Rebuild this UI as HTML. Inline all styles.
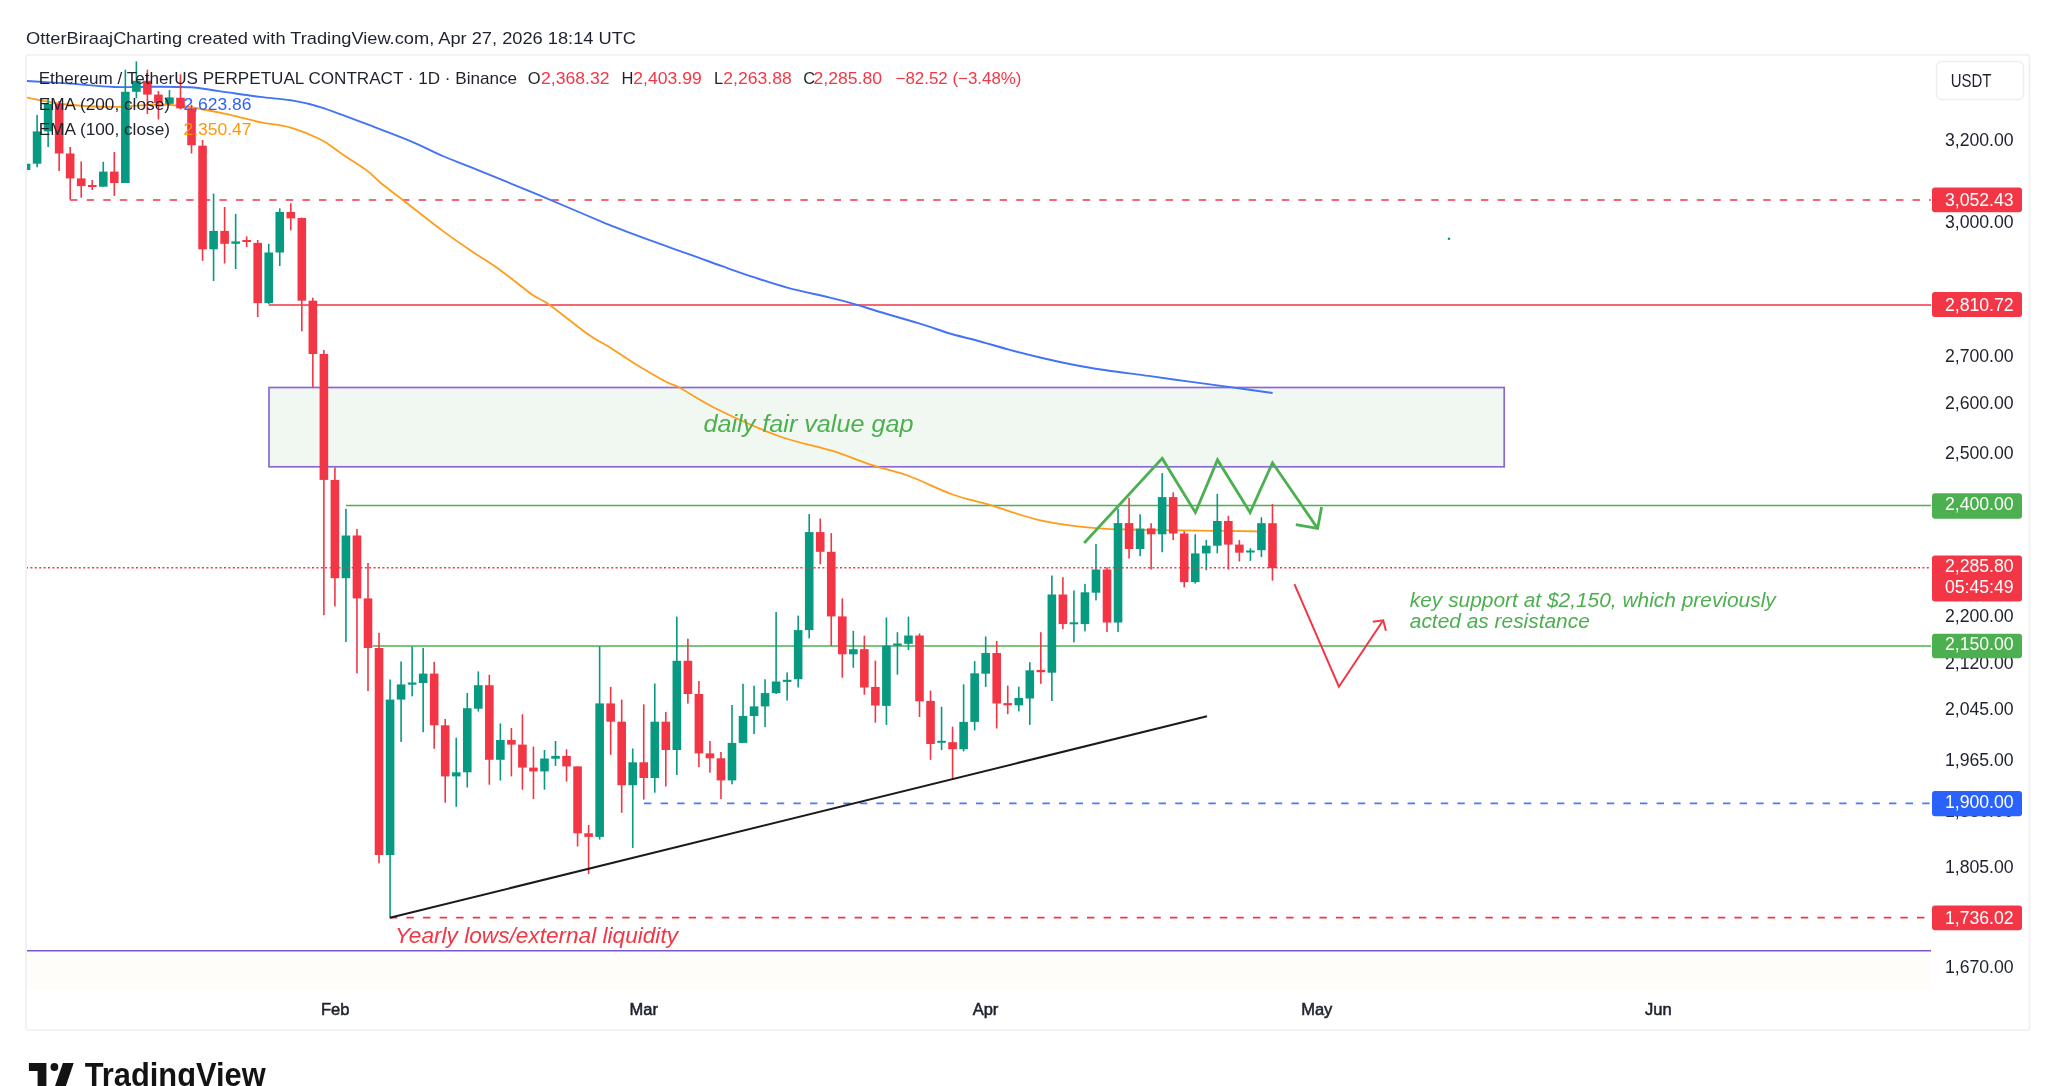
<!DOCTYPE html><html><head><meta charset="utf-8"><style>html,body{margin:0;padding:0;background:#fff;overflow:hidden}svg{display:block;filter:blur(0.3px)}text{font-family:"Liberation Sans",sans-serif}</style></head><body>
<svg width="2048" height="1086" viewBox="0 0 2048 1086">
<rect x="0" y="0" width="2048" height="1086" fill="#ffffff"/>
<rect x="26" y="55" width="2003.5" height="975" rx="2" fill="#ffffff" stroke="#efeff2" stroke-width="1.6"/>
<rect x="27" y="952" width="1904" height="38" fill="#fefdfa"/>
<defs><clipPath id="pane"><rect x="27" y="56" width="1904" height="934"/></clipPath></defs>
<text x="26" y="44" font-size="17" fill="#1e222d" text-anchor="start" font-weight="normal" font-style="normal" textLength="610" lengthAdjust="spacingAndGlyphs">OtterBiraajCharting created with TradingView.com, Apr 27, 2026 18:14 UTC</text>
<g clip-path="url(#pane)">
<rect x="269" y="387.5" width="1235.2" height="79.3" fill="#f1f8f1" stroke="#8a68d6" stroke-width="1.7"/>
<line x1="70" y1="200" x2="1931" y2="200" stroke="#f23645" stroke-width="1.7" stroke-dasharray="7.4 9.2"/>
<line x1="268.7" y1="305" x2="1931" y2="305" stroke="#f23645" stroke-width="1.6"/>
<line x1="346" y1="505.5" x2="1931" y2="505.5" stroke="#4caf50" stroke-width="1.5"/>
<line x1="372.6" y1="646" x2="1931" y2="646" stroke="#4caf50" stroke-width="1.5"/>
<line x1="644" y1="803.3" x2="1931" y2="803.3" stroke="#2962ff" stroke-width="1.7" stroke-dasharray="7.4 9.2" stroke-opacity="0.85"/>
<line x1="389.8" y1="917.6" x2="1931" y2="917.6" stroke="#f23645" stroke-width="1.7" stroke-dasharray="7.4 9.2"/>
<line x1="26" y1="950.8" x2="1931" y2="950.8" stroke="#7b55d0" stroke-width="1.5"/>
<path d="M26.4,97.5 C33.1,98.7 52.3,102.9 66.9,104.5 C81.5,106.1 98.2,106.9 113.8,106.9 C129.4,106.9 146.9,104.3 160.6,104.5 C174.3,104.7 184.1,106.2 195.8,108 C207.5,109.8 220.3,112.8 231,115.1 C241.7,117.4 250.0,120.0 260,122.1 C270.0,124.2 280.6,124.6 290.8,127.6 C301.0,130.6 312.3,135.2 321.1,139.8 C329.9,144.4 335.6,149.8 343.4,155 C351.2,160.2 361.6,166.5 367.7,171.1 C373.8,175.7 374.1,177.6 379.9,182.3 C385.6,187.0 391.7,191.4 402.2,199.5 C412.7,207.6 430.9,222.1 442.7,230.9 C454.5,239.7 463.7,245.8 473.1,252.2 C482.6,258.6 489.6,262.4 499.4,269.4 C509.1,276.4 523.3,288.4 531.6,294.3 C539.9,300.2 539.5,297.8 549,304.5 C558.5,311.2 578.7,327.8 588.7,334.8 C598.7,341.9 601.5,342.2 608.9,346.8 C616.3,351.4 623.4,356.7 632.9,362.5 C642.4,368.3 658.3,377.7 666,381.8 C673.7,385.9 670.0,382.6 678.9,387.3 C687.8,392.1 702.5,402.1 719.4,410.3 C736.2,418.5 761.3,429.8 780,436.5 C798.7,443.2 815.6,445.8 831.5,450.7 C847.4,455.6 862.5,462.0 875.4,466.2 C888.3,470.4 896.0,471.3 908.9,476 C921.8,480.7 939.0,489.6 952.7,494.5 C966.4,499.4 976.7,501.1 991.3,505.4 C1005.9,509.7 1022.9,516.5 1040.3,520.3 C1057.7,524.1 1077.8,526.5 1095.6,528.1 C1113.3,529.7 1126.9,529.3 1146.8,529.8 C1166.7,530.2 1195.3,530.5 1215.2,530.8 C1235.1,531.1 1257.9,531.4 1266.4,531.5" fill="none" stroke="#ff9d1a" stroke-width="1.8" stroke-linejoin="round"/>
<path d="M26.4,80.9 C33.1,81.3 52.3,82.4 66.9,83.4 C81.5,84.4 100.1,86.5 113.8,87 C127.5,87.5 136.2,86.7 148.9,86.7 C161.6,86.7 178.2,86.5 189.9,87.2 C201.6,87.9 207.5,89.5 219.2,91.1 C230.9,92.7 248.1,95.4 260,96.9 C271.9,98.4 280.6,98.6 290.8,100.3 C301.0,102.0 306.9,102.8 321.1,107.3 C335.3,111.8 360.6,121.8 375.8,127.6 C391.0,133.3 401.2,137.1 412.3,141.8 C423.4,146.5 432.6,151.6 442.7,156 C452.8,160.4 458.6,162.2 473.1,168.1 C487.7,174.0 512.2,184.0 530,191.4 C547.8,198.8 566.8,206.9 580,212.5 C593.2,218.1 600.8,221.4 609.3,224.9 C617.8,228.4 622.0,229.9 631.3,233.4 C640.6,236.9 654.0,241.8 665,245.7 C676.0,249.6 687.7,253.7 697.2,257.1 C706.7,260.5 712.8,262.9 722.1,266.2 C731.4,269.5 741.8,273.3 752.8,276.9 C763.8,280.5 775.3,284.5 788,287.9 C800.7,291.3 817.8,294.7 829,297.4 C840.2,300.1 846.9,301.9 855.4,304.3 C863.9,306.7 868.7,308.6 880,312 C891.3,315.4 911.4,321.0 923,324.6 C934.6,328.2 940.8,330.9 949.8,333.5 C958.8,336.1 966.9,337.8 976.7,340.5 C986.6,343.2 998.2,346.7 1008.9,349.6 C1019.6,352.5 1030.4,355.2 1041.1,357.7 C1051.8,360.2 1062.7,362.6 1073.3,364.7 C1083.9,366.8 1092.0,368.1 1104.6,370 C1117.1,371.9 1134.8,374.0 1148.6,375.9 C1162.4,377.8 1174.7,379.6 1187.7,381.4 C1200.7,383.2 1212.6,384.7 1226.7,386.6 C1240.8,388.5 1264.9,391.9 1272.6,393" fill="none" stroke="#4273f6" stroke-width="1.9" stroke-linejoin="round"/>
<rect x="25.27" y="155.0" width="1.6" height="18.0" fill="#089981"/>
<rect x="21.77" y="163.7" width="8.6" height="6.3" fill="#089981"/>
<rect x="36.30" y="114.9" width="1.6" height="52.4" fill="#089981"/>
<rect x="32.80" y="131.4" width="8.6" height="32.3" fill="#089981"/>
<rect x="47.33" y="99.0" width="1.6" height="48.0" fill="#089981"/>
<rect x="43.83" y="103.8" width="8.6" height="27.6" fill="#089981"/>
<rect x="58.36" y="101.0" width="1.6" height="70.0" fill="#f23645"/>
<rect x="54.86" y="103.8" width="8.6" height="49.7" fill="#f23645"/>
<rect x="69.39" y="147.0" width="1.6" height="52.6" fill="#f23645"/>
<rect x="65.89" y="153.5" width="8.6" height="24.9" fill="#f23645"/>
<rect x="80.42" y="161.4" width="1.6" height="36.3" fill="#f23645"/>
<rect x="76.92" y="178.4" width="8.6" height="7.7" fill="#f23645"/>
<rect x="91.45" y="180.0" width="1.6" height="10.0" fill="#f23645"/>
<rect x="87.95" y="185.0" width="8.6" height="2.0" fill="#f23645"/>
<rect x="102.48" y="161.8" width="1.6" height="24.9" fill="#089981"/>
<rect x="98.98" y="171.6" width="8.6" height="15.1" fill="#089981"/>
<rect x="113.51" y="152.0" width="1.6" height="43.9" fill="#f23645"/>
<rect x="110.01" y="171.6" width="8.6" height="11.4" fill="#f23645"/>
<rect x="124.54" y="69.7" width="1.6" height="113.3" fill="#089981"/>
<rect x="121.04" y="91.8" width="8.6" height="91.2" fill="#089981"/>
<rect x="135.57" y="61.4" width="1.6" height="36.9" fill="#089981"/>
<rect x="132.07" y="80.8" width="8.6" height="11.0" fill="#089981"/>
<rect x="146.60" y="69.7" width="1.6" height="44.2" fill="#f23645"/>
<rect x="143.10" y="80.8" width="8.6" height="13.8" fill="#f23645"/>
<rect x="157.63" y="91.0" width="1.6" height="28.5" fill="#f23645"/>
<rect x="154.13" y="94.6" width="8.6" height="8.3" fill="#f23645"/>
<rect x="168.66" y="90.0" width="1.6" height="14.7" fill="#089981"/>
<rect x="165.16" y="97.4" width="8.6" height="6.4" fill="#089981"/>
<rect x="179.69" y="74.3" width="1.6" height="35.0" fill="#f23645"/>
<rect x="176.19" y="97.7" width="8.6" height="10.7" fill="#f23645"/>
<rect x="190.72" y="104.7" width="1.6" height="48.8" fill="#f23645"/>
<rect x="187.22" y="108.4" width="8.6" height="36.8" fill="#f23645"/>
<rect x="201.75" y="140.0" width="1.6" height="120.8" fill="#f23645"/>
<rect x="198.25" y="145.7" width="8.6" height="103.6" fill="#f23645"/>
<rect x="212.78" y="193.5" width="1.6" height="87.5" fill="#089981"/>
<rect x="209.28" y="230.9" width="8.6" height="18.4" fill="#089981"/>
<rect x="223.81" y="207.0" width="1.6" height="56.5" fill="#f23645"/>
<rect x="220.31" y="230.9" width="8.6" height="12.9" fill="#f23645"/>
<rect x="234.84" y="213.8" width="1.6" height="55.2" fill="#089981"/>
<rect x="231.34" y="241.4" width="8.6" height="2.4" fill="#089981"/>
<rect x="245.87" y="236.4" width="1.6" height="10.6" fill="#f23645"/>
<rect x="242.37" y="240.0" width="8.6" height="2.0" fill="#f23645"/>
<rect x="256.90" y="240.0" width="1.6" height="77.0" fill="#f23645"/>
<rect x="253.40" y="242.9" width="8.6" height="60.2" fill="#f23645"/>
<rect x="267.93" y="243.8" width="1.6" height="60.2" fill="#089981"/>
<rect x="264.43" y="252.5" width="8.6" height="50.6" fill="#089981"/>
<rect x="278.96" y="208.3" width="1.6" height="57.7" fill="#089981"/>
<rect x="275.46" y="212.0" width="8.6" height="40.5" fill="#089981"/>
<rect x="289.99" y="203.3" width="1.6" height="27.1" fill="#f23645"/>
<rect x="286.49" y="212.0" width="8.6" height="6.4" fill="#f23645"/>
<rect x="301.02" y="217.5" width="1.6" height="113.9" fill="#f23645"/>
<rect x="297.52" y="218.0" width="8.6" height="82.7" fill="#f23645"/>
<rect x="312.05" y="297.7" width="1.6" height="89.9" fill="#f23645"/>
<rect x="308.55" y="300.7" width="8.6" height="53.3" fill="#f23645"/>
<rect x="323.08" y="350.0" width="1.6" height="265.2" fill="#f23645"/>
<rect x="319.58" y="354.0" width="8.6" height="125.9" fill="#f23645"/>
<rect x="334.11" y="467.4" width="1.6" height="139.0" fill="#f23645"/>
<rect x="330.61" y="479.9" width="8.6" height="98.3" fill="#f23645"/>
<rect x="345.14" y="508.8" width="1.6" height="133.2" fill="#089981"/>
<rect x="341.64" y="535.5" width="8.6" height="42.7" fill="#089981"/>
<rect x="356.17" y="529.0" width="1.6" height="144.4" fill="#f23645"/>
<rect x="352.67" y="535.5" width="8.6" height="62.9" fill="#f23645"/>
<rect x="367.20" y="563.0" width="1.6" height="128.0" fill="#f23645"/>
<rect x="363.70" y="598.4" width="8.6" height="49.6" fill="#f23645"/>
<rect x="378.23" y="632.8" width="1.6" height="230.6" fill="#f23645"/>
<rect x="374.73" y="648.0" width="8.6" height="207.0" fill="#f23645"/>
<rect x="389.26" y="679.5" width="1.6" height="238.0" fill="#089981"/>
<rect x="385.76" y="699.6" width="8.6" height="155.4" fill="#089981"/>
<rect x="400.29" y="661.5" width="1.6" height="80.4" fill="#089981"/>
<rect x="396.79" y="684.4" width="8.6" height="15.2" fill="#089981"/>
<rect x="411.32" y="646.6" width="1.6" height="49.7" fill="#089981"/>
<rect x="407.82" y="682.5" width="8.6" height="2.2" fill="#089981"/>
<rect x="422.35" y="648.0" width="1.6" height="84.2" fill="#089981"/>
<rect x="418.85" y="673.6" width="8.6" height="9.4" fill="#089981"/>
<rect x="433.38" y="661.8" width="1.6" height="87.0" fill="#f23645"/>
<rect x="429.88" y="673.6" width="8.6" height="51.7" fill="#f23645"/>
<rect x="444.41" y="719.0" width="1.6" height="83.7" fill="#f23645"/>
<rect x="440.91" y="725.3" width="8.6" height="51.1" fill="#f23645"/>
<rect x="455.44" y="737.7" width="1.6" height="69.1" fill="#089981"/>
<rect x="451.94" y="772.3" width="8.6" height="4.1" fill="#089981"/>
<rect x="466.47" y="693.0" width="1.6" height="94.5" fill="#089981"/>
<rect x="462.97" y="708.2" width="8.6" height="64.1" fill="#089981"/>
<rect x="477.50" y="671.4" width="1.6" height="40.1" fill="#089981"/>
<rect x="474.00" y="685.2" width="8.6" height="23.5" fill="#089981"/>
<rect x="488.53" y="674.8" width="1.6" height="109.9" fill="#f23645"/>
<rect x="485.03" y="685.2" width="8.6" height="74.6" fill="#f23645"/>
<rect x="499.56" y="723.4" width="1.6" height="57.1" fill="#089981"/>
<rect x="496.06" y="740.0" width="8.6" height="19.8" fill="#089981"/>
<rect x="510.59" y="728.0" width="1.6" height="48.4" fill="#f23645"/>
<rect x="507.09" y="740.0" width="8.6" height="4.6" fill="#f23645"/>
<rect x="521.62" y="714.3" width="1.6" height="75.4" fill="#f23645"/>
<rect x="518.12" y="744.6" width="8.6" height="23.0" fill="#f23645"/>
<rect x="532.65" y="746.6" width="1.6" height="52.4" fill="#f23645"/>
<rect x="529.15" y="767.6" width="8.6" height="3.8" fill="#f23645"/>
<rect x="543.68" y="750.0" width="1.6" height="39.7" fill="#089981"/>
<rect x="540.18" y="758.5" width="8.6" height="12.9" fill="#089981"/>
<rect x="554.71" y="741.0" width="1.6" height="24.9" fill="#089981"/>
<rect x="551.21" y="755.9" width="8.6" height="2.8" fill="#089981"/>
<rect x="565.74" y="749.3" width="1.6" height="32.3" fill="#f23645"/>
<rect x="562.24" y="755.9" width="8.6" height="10.5" fill="#f23645"/>
<rect x="576.77" y="766.4" width="1.6" height="80.1" fill="#f23645"/>
<rect x="573.27" y="766.4" width="8.6" height="66.9" fill="#f23645"/>
<rect x="587.80" y="825.0" width="1.6" height="49.1" fill="#f23645"/>
<rect x="584.30" y="833.3" width="8.6" height="3.6" fill="#f23645"/>
<rect x="598.83" y="646.2" width="1.6" height="193.4" fill="#089981"/>
<rect x="595.33" y="703.4" width="8.6" height="133.5" fill="#089981"/>
<rect x="609.86" y="686.9" width="1.6" height="67.9" fill="#f23645"/>
<rect x="606.36" y="703.4" width="8.6" height="18.3" fill="#f23645"/>
<rect x="620.89" y="699.6" width="1.6" height="113.2" fill="#f23645"/>
<rect x="617.39" y="721.7" width="8.6" height="63.5" fill="#f23645"/>
<rect x="631.92" y="748.5" width="1.6" height="99.4" fill="#089981"/>
<rect x="628.42" y="762.3" width="8.6" height="22.9" fill="#089981"/>
<rect x="642.95" y="704.3" width="1.6" height="95.3" fill="#f23645"/>
<rect x="639.45" y="762.3" width="8.6" height="15.7" fill="#f23645"/>
<rect x="653.98" y="683.5" width="1.6" height="109.2" fill="#089981"/>
<rect x="650.48" y="721.7" width="8.6" height="56.3" fill="#089981"/>
<rect x="665.01" y="712.0" width="1.6" height="74.5" fill="#f23645"/>
<rect x="661.51" y="721.7" width="8.6" height="28.3" fill="#f23645"/>
<rect x="676.04" y="616.6" width="1.6" height="158.4" fill="#089981"/>
<rect x="672.54" y="660.8" width="8.6" height="89.2" fill="#089981"/>
<rect x="687.07" y="638.7" width="1.6" height="64.9" fill="#f23645"/>
<rect x="683.57" y="660.8" width="8.6" height="33.2" fill="#f23645"/>
<rect x="698.10" y="681.0" width="1.6" height="86.2" fill="#f23645"/>
<rect x="694.60" y="694.0" width="8.6" height="59.4" fill="#f23645"/>
<rect x="709.13" y="741.0" width="1.6" height="31.7" fill="#f23645"/>
<rect x="705.63" y="753.4" width="8.6" height="4.9" fill="#f23645"/>
<rect x="720.16" y="752.0" width="1.6" height="47.0" fill="#f23645"/>
<rect x="716.66" y="758.3" width="8.6" height="22.1" fill="#f23645"/>
<rect x="731.19" y="705.0" width="1.6" height="79.3" fill="#089981"/>
<rect x="727.69" y="742.9" width="8.6" height="37.5" fill="#089981"/>
<rect x="742.22" y="683.8" width="1.6" height="59.1" fill="#089981"/>
<rect x="738.72" y="716.0" width="8.6" height="26.9" fill="#089981"/>
<rect x="753.25" y="685.7" width="1.6" height="48.3" fill="#089981"/>
<rect x="749.75" y="706.4" width="8.6" height="9.6" fill="#089981"/>
<rect x="764.28" y="679.3" width="1.6" height="47.8" fill="#089981"/>
<rect x="760.78" y="693.1" width="8.6" height="13.3" fill="#089981"/>
<rect x="775.31" y="612.0" width="1.6" height="82.0" fill="#089981"/>
<rect x="771.81" y="681.5" width="8.6" height="11.6" fill="#089981"/>
<rect x="786.34" y="672.4" width="1.6" height="28.1" fill="#089981"/>
<rect x="782.84" y="679.8" width="8.6" height="2.1" fill="#089981"/>
<rect x="797.37" y="615.6" width="1.6" height="71.9" fill="#089981"/>
<rect x="793.87" y="630.1" width="8.6" height="49.1" fill="#089981"/>
<rect x="808.40" y="514.1" width="1.6" height="124.3" fill="#089981"/>
<rect x="804.90" y="532.1" width="8.6" height="98.0" fill="#089981"/>
<rect x="819.43" y="518.6" width="1.6" height="45.6" fill="#f23645"/>
<rect x="815.93" y="532.1" width="8.6" height="19.7" fill="#f23645"/>
<rect x="830.46" y="533.1" width="1.6" height="112.9" fill="#f23645"/>
<rect x="826.96" y="551.8" width="8.6" height="64.6" fill="#f23645"/>
<rect x="841.49" y="598.4" width="1.6" height="79.3" fill="#f23645"/>
<rect x="837.99" y="616.4" width="8.6" height="37.9" fill="#f23645"/>
<rect x="852.52" y="630.9" width="1.6" height="36.9" fill="#089981"/>
<rect x="849.02" y="649.2" width="8.6" height="5.1" fill="#089981"/>
<rect x="863.55" y="635.7" width="1.6" height="59.0" fill="#f23645"/>
<rect x="860.05" y="649.2" width="8.6" height="38.3" fill="#f23645"/>
<rect x="874.58" y="660.6" width="1.6" height="62.1" fill="#f23645"/>
<rect x="871.08" y="686.9" width="8.6" height="18.6" fill="#f23645"/>
<rect x="885.61" y="617.5" width="1.6" height="107.4" fill="#089981"/>
<rect x="882.11" y="645.7" width="8.6" height="60.2" fill="#089981"/>
<rect x="896.64" y="632.2" width="1.6" height="42.4" fill="#089981"/>
<rect x="893.14" y="643.5" width="8.6" height="2.2" fill="#089981"/>
<rect x="907.67" y="616.6" width="1.6" height="33.5" fill="#089981"/>
<rect x="904.17" y="635.5" width="8.6" height="8.3" fill="#089981"/>
<rect x="918.70" y="633.5" width="1.6" height="83.5" fill="#f23645"/>
<rect x="915.20" y="635.5" width="8.6" height="65.8" fill="#f23645"/>
<rect x="929.73" y="690.6" width="1.6" height="69.3" fill="#f23645"/>
<rect x="926.23" y="700.9" width="8.6" height="43.1" fill="#f23645"/>
<rect x="940.76" y="706.8" width="1.6" height="43.3" fill="#089981"/>
<rect x="937.26" y="740.8" width="8.6" height="2.0" fill="#089981"/>
<rect x="951.79" y="726.7" width="1.6" height="52.3" fill="#f23645"/>
<rect x="948.29" y="742.2" width="8.6" height="7.0" fill="#f23645"/>
<rect x="962.82" y="684.3" width="1.6" height="67.1" fill="#089981"/>
<rect x="959.32" y="721.9" width="8.6" height="27.3" fill="#089981"/>
<rect x="973.85" y="661.1" width="1.6" height="69.3" fill="#089981"/>
<rect x="970.35" y="673.3" width="8.6" height="48.6" fill="#089981"/>
<rect x="984.88" y="636.5" width="1.6" height="50.4" fill="#089981"/>
<rect x="981.38" y="653.0" width="8.6" height="20.7" fill="#089981"/>
<rect x="995.91" y="640.9" width="1.6" height="87.6" fill="#f23645"/>
<rect x="992.41" y="653.0" width="8.6" height="50.5" fill="#f23645"/>
<rect x="1006.94" y="685.6" width="1.6" height="28.6" fill="#f23645"/>
<rect x="1003.44" y="703.1" width="8.6" height="2.2" fill="#f23645"/>
<rect x="1017.97" y="686.6" width="1.6" height="24.8" fill="#089981"/>
<rect x="1014.47" y="698.0" width="8.6" height="7.3" fill="#089981"/>
<rect x="1029.00" y="662.2" width="1.6" height="62.7" fill="#089981"/>
<rect x="1025.50" y="670.3" width="8.6" height="28.2" fill="#089981"/>
<rect x="1040.03" y="632.2" width="1.6" height="51.6" fill="#f23645"/>
<rect x="1036.53" y="670.0" width="8.6" height="2.2" fill="#f23645"/>
<rect x="1051.06" y="575.5" width="1.6" height="125.5" fill="#089981"/>
<rect x="1047.56" y="594.5" width="8.6" height="78.2" fill="#089981"/>
<rect x="1062.09" y="577.2" width="1.6" height="52.0" fill="#f23645"/>
<rect x="1058.59" y="594.5" width="8.6" height="29.6" fill="#f23645"/>
<rect x="1073.12" y="590.5" width="1.6" height="51.9" fill="#089981"/>
<rect x="1069.62" y="622.3" width="8.6" height="2.0" fill="#089981"/>
<rect x="1084.15" y="583.9" width="1.6" height="47.5" fill="#089981"/>
<rect x="1080.65" y="592.3" width="8.6" height="31.8" fill="#089981"/>
<rect x="1095.18" y="544.1" width="1.6" height="56.3" fill="#089981"/>
<rect x="1091.68" y="569.5" width="8.6" height="23.2" fill="#089981"/>
<rect x="1106.21" y="567.3" width="1.6" height="64.7" fill="#f23645"/>
<rect x="1102.71" y="569.5" width="8.6" height="53.0" fill="#f23645"/>
<rect x="1117.24" y="508.7" width="1.6" height="123.3" fill="#089981"/>
<rect x="1113.74" y="523.1" width="8.6" height="99.4" fill="#089981"/>
<rect x="1128.27" y="497.7" width="1.6" height="60.8" fill="#f23645"/>
<rect x="1124.77" y="523.1" width="8.6" height="25.9" fill="#f23645"/>
<rect x="1139.30" y="514.3" width="1.6" height="41.9" fill="#089981"/>
<rect x="1135.80" y="528.6" width="8.6" height="20.4" fill="#089981"/>
<rect x="1150.33" y="523.2" width="1.6" height="46.4" fill="#f23645"/>
<rect x="1146.83" y="528.4" width="8.6" height="5.9" fill="#f23645"/>
<rect x="1161.36" y="473.1" width="1.6" height="79.1" fill="#089981"/>
<rect x="1157.86" y="497.1" width="8.6" height="37.2" fill="#089981"/>
<rect x="1172.39" y="492.3" width="1.6" height="47.8" fill="#f23645"/>
<rect x="1168.89" y="497.1" width="8.6" height="36.4" fill="#f23645"/>
<rect x="1183.42" y="531.3" width="1.6" height="56.0" fill="#f23645"/>
<rect x="1179.92" y="533.5" width="8.6" height="48.6" fill="#f23645"/>
<rect x="1194.45" y="534.3" width="1.6" height="49.3" fill="#089981"/>
<rect x="1190.95" y="553.4" width="8.6" height="28.7" fill="#089981"/>
<rect x="1205.48" y="539.9" width="1.6" height="30.4" fill="#089981"/>
<rect x="1201.98" y="545.7" width="8.6" height="7.7" fill="#089981"/>
<rect x="1216.51" y="493.8" width="1.6" height="59.6" fill="#089981"/>
<rect x="1213.01" y="521.0" width="8.6" height="24.7" fill="#089981"/>
<rect x="1227.54" y="515.8" width="1.6" height="53.8" fill="#f23645"/>
<rect x="1224.04" y="521.0" width="8.6" height="23.6" fill="#f23645"/>
<rect x="1238.57" y="540.1" width="1.6" height="21.4" fill="#f23645"/>
<rect x="1235.07" y="544.6" width="8.6" height="8.1" fill="#f23645"/>
<rect x="1249.60" y="548.2" width="1.6" height="12.6" fill="#089981"/>
<rect x="1246.10" y="550.5" width="8.6" height="2.0" fill="#089981"/>
<rect x="1260.63" y="517.3" width="1.6" height="39.8" fill="#089981"/>
<rect x="1257.13" y="523.2" width="8.6" height="27.0" fill="#089981"/>
<rect x="1271.66" y="504.1" width="1.6" height="76.5" fill="#f23645"/>
<rect x="1268.16" y="523.2" width="8.6" height="44.9" fill="#f23645"/>
<line x1="26" y1="567.8" x2="1931" y2="567.8" stroke="#f23645" stroke-width="1.5" stroke-dasharray="2 2.4"/>
<line x1="389.8" y1="917.8" x2="1207" y2="716.3" stroke="#1a1a1a" stroke-width="2"/>
<polyline points="1084.2,543 1162.2,458.4 1195.4,512.5 1217.5,459.9 1250.1,512.5 1272.5,462.8 1317.6,528.4" fill="none" stroke="#4caf50" stroke-width="2.8" stroke-linejoin="miter"/>
<polyline points="1295.8,524.7 1317.6,528.4 1321.6,507" fill="none" stroke="#4caf50" stroke-width="2.8"/>
<polyline points="1294.4,584.1 1338.9,686.7 1383.2,620.3" fill="none" stroke="#f23645" stroke-width="2"/>
<polyline points="1372.8,621.7 1383.2,620.3 1385.9,630.8" fill="none" stroke="#f23645" stroke-width="2"/>
<text x="703.5" y="431.7" font-size="23" fill="#4caf50" text-anchor="start" font-weight="normal" font-style="italic" textLength="210" lengthAdjust="spacingAndGlyphs">daily fair value gap</text>
<text x="1409.8" y="606.5" font-size="20" fill="#4caf50" text-anchor="start" font-weight="normal" font-style="italic" textLength="366" lengthAdjust="spacingAndGlyphs">key support at $2,150, which previously</text>
<text x="1409.8" y="628" font-size="20" fill="#4caf50" text-anchor="start" font-weight="normal" font-style="italic" textLength="180" lengthAdjust="spacingAndGlyphs">acted as resistance</text>
<text x="395" y="943.2" font-size="21.5" fill="#f23645" text-anchor="start" font-weight="normal" font-style="italic" textLength="283" lengthAdjust="spacingAndGlyphs">Yearly lows/external liquidity</text>
<circle cx="1449" cy="238.8" r="1.3" fill="#089981"/>
</g>
<text x="38.7" y="84.3" font-size="16.5" fill="#1e222d" text-anchor="start" font-weight="normal" font-style="normal" textLength="478.4" lengthAdjust="spacingAndGlyphs">Ethereum / TetherUS PERPETUAL CONTRACT · 1D · Binance</text>
<text x="527.8" y="84.3" font-size="16.5" fill="#1e222d" text-anchor="start" font-weight="normal" font-style="normal">O</text>
<text x="541" y="84.3" font-size="16.5" fill="#f23645" text-anchor="start" font-weight="normal" font-style="normal" textLength="68.5" lengthAdjust="spacingAndGlyphs">2,368.32</text>
<text x="621.6" y="84.3" font-size="16.5" fill="#1e222d" text-anchor="start" font-weight="normal" font-style="normal">H</text>
<text x="633.3" y="84.3" font-size="16.5" fill="#f23645" text-anchor="start" font-weight="normal" font-style="normal" textLength="68.5" lengthAdjust="spacingAndGlyphs">2,403.99</text>
<text x="713.9" y="84.3" font-size="16.5" fill="#1e222d" text-anchor="start" font-weight="normal" font-style="normal">L</text>
<text x="723.3" y="84.3" font-size="16.5" fill="#f23645" text-anchor="start" font-weight="normal" font-style="normal" textLength="68.5" lengthAdjust="spacingAndGlyphs">2,263.88</text>
<text x="803.3" y="84.3" font-size="16.5" fill="#1e222d" text-anchor="start" font-weight="normal" font-style="normal">C</text>
<text x="813.5" y="84.3" font-size="16.5" fill="#f23645" text-anchor="start" font-weight="normal" font-style="normal" textLength="68.5" lengthAdjust="spacingAndGlyphs">2,285.80</text>
<text x="895.5" y="84.3" font-size="16.5" fill="#f23645" text-anchor="start" font-weight="normal" font-style="normal" textLength="126" lengthAdjust="spacingAndGlyphs">−82.52 (−3.48%)</text>
<text x="38.7" y="109.8" font-size="16.5" fill="#1e222d" text-anchor="start" font-weight="normal" font-style="normal" textLength="131.3" lengthAdjust="spacingAndGlyphs">EMA (200, close)</text>
<text x="183.5" y="109.8" font-size="16.5" fill="#2962ff" text-anchor="start" font-weight="normal" font-style="normal" textLength="68" lengthAdjust="spacingAndGlyphs">2,623.86</text>
<text x="38.7" y="135.2" font-size="16.5" fill="#1e222d" text-anchor="start" font-weight="normal" font-style="normal" textLength="131.3" lengthAdjust="spacingAndGlyphs">EMA (100, close)</text>
<text x="183.5" y="135.2" font-size="16.5" fill="#ff9800" text-anchor="start" font-weight="normal" font-style="normal" textLength="68" lengthAdjust="spacingAndGlyphs">2,350.47</text>
<rect x="1936.5" y="61.5" width="87" height="38" rx="5" fill="#ffffff" stroke="#eeeeee" stroke-width="1.5"/>
<text x="1950.8" y="86.6" font-size="17.5" fill="#1e222d" text-anchor="start" font-weight="normal" font-style="normal" textLength="40.7" lengthAdjust="spacingAndGlyphs">USDT</text>
<text x="2013.7" y="145.6" font-size="18" fill="#1e222d" text-anchor="end" font-weight="normal" font-style="normal" textLength="68.8" lengthAdjust="spacingAndGlyphs">3,200.00</text>
<text x="2013.7" y="227.7" font-size="18" fill="#1e222d" text-anchor="end" font-weight="normal" font-style="normal" textLength="68.8" lengthAdjust="spacingAndGlyphs">3,000.00</text>
<text x="2013.7" y="361.6" font-size="18" fill="#1e222d" text-anchor="end" font-weight="normal" font-style="normal" textLength="68.8" lengthAdjust="spacingAndGlyphs">2,700.00</text>
<text x="2013.7" y="409.3" font-size="18" fill="#1e222d" text-anchor="end" font-weight="normal" font-style="normal" textLength="68.8" lengthAdjust="spacingAndGlyphs">2,600.00</text>
<text x="2013.7" y="458.9" font-size="18" fill="#1e222d" text-anchor="end" font-weight="normal" font-style="normal" textLength="68.8" lengthAdjust="spacingAndGlyphs">2,500.00</text>
<text x="2013.7" y="621.7" font-size="18" fill="#1e222d" text-anchor="end" font-weight="normal" font-style="normal" textLength="68.8" lengthAdjust="spacingAndGlyphs">2,200.00</text>
<text x="2013.7" y="668.9" font-size="18" fill="#1e222d" text-anchor="end" font-weight="normal" font-style="normal" textLength="68.8" lengthAdjust="spacingAndGlyphs">2,120.00</text>
<text x="2013.7" y="715" font-size="18" fill="#1e222d" text-anchor="end" font-weight="normal" font-style="normal" textLength="68.8" lengthAdjust="spacingAndGlyphs">2,045.00</text>
<text x="2013.7" y="765.6" font-size="18" fill="#1e222d" text-anchor="end" font-weight="normal" font-style="normal" textLength="68.8" lengthAdjust="spacingAndGlyphs">1,965.00</text>
<text x="2013.7" y="817.4" font-size="18" fill="#1e222d" text-anchor="end" font-weight="normal" font-style="normal" textLength="68.8" lengthAdjust="spacingAndGlyphs">1,880.00</text>
<text x="2013.7" y="873.3" font-size="18" fill="#1e222d" text-anchor="end" font-weight="normal" font-style="normal" textLength="68.8" lengthAdjust="spacingAndGlyphs">1,805.00</text>
<text x="2013.7" y="972.8" font-size="18" fill="#1e222d" text-anchor="end" font-weight="normal" font-style="normal" textLength="68.8" lengthAdjust="spacingAndGlyphs">1,670.00</text>
<rect x="1932" y="187.4" width="90" height="24.900000000000006" rx="3" fill="#f23645"/>
<text x="2013.7" y="205.6" font-size="18" fill="#ffffff" text-anchor="end" font-weight="normal" font-style="normal" textLength="68.8" lengthAdjust="spacingAndGlyphs">3,052.43</text>
<rect x="1932" y="292" width="90" height="25" rx="3" fill="#f23645"/>
<text x="2013.7" y="310.8" font-size="18" fill="#ffffff" text-anchor="end" font-weight="normal" font-style="normal" textLength="68.8" lengthAdjust="spacingAndGlyphs">2,810.72</text>
<rect x="1932" y="493.3" width="90" height="25.400000000000034" rx="3" fill="#4caf50"/>
<text x="2013.7" y="510.4" font-size="18" fill="#ffffff" text-anchor="end" font-weight="normal" font-style="normal" textLength="68.8" lengthAdjust="spacingAndGlyphs">2,400.00</text>
<rect x="1932" y="555.5" width="90" height="46.0" rx="3" fill="#f23645"/>
<text x="2013.7" y="572" font-size="18" fill="#ffffff" text-anchor="end" font-weight="normal" font-style="normal" textLength="68.8" lengthAdjust="spacingAndGlyphs">2,285.80</text>
<text x="2013.7" y="592.6" font-size="18" fill="#ffffff" text-anchor="end" font-weight="normal" font-style="normal" textLength="68.8" lengthAdjust="spacingAndGlyphs">05:45:49</text>
<rect x="1932" y="633.7" width="90" height="24.5" rx="3" fill="#4caf50"/>
<text x="2013.7" y="650.3" font-size="18" fill="#ffffff" text-anchor="end" font-weight="normal" font-style="normal" textLength="68.8" lengthAdjust="spacingAndGlyphs">2,150.00</text>
<rect x="1932" y="791" width="90" height="25.200000000000045" rx="3" fill="#2962ff"/>
<text x="2013.7" y="807.9" font-size="18" fill="#ffffff" text-anchor="end" font-weight="normal" font-style="normal" textLength="68.8" lengthAdjust="spacingAndGlyphs">1,900.00</text>
<rect x="1932" y="905.5" width="90" height="24.799999999999955" rx="3" fill="#f23645"/>
<text x="2013.7" y="924" font-size="18" fill="#ffffff" text-anchor="end" font-weight="normal" font-style="normal" textLength="68.8" lengthAdjust="spacingAndGlyphs">1,736.02</text>
<text x="335.2" y="1015.4" font-size="16.5" fill="#1e222d" text-anchor="middle" font-weight="normal" font-style="normal" stroke="#1e222d" stroke-width="0.55">Feb</text>
<text x="643.7" y="1015.4" font-size="16.5" fill="#1e222d" text-anchor="middle" font-weight="normal" font-style="normal" stroke="#1e222d" stroke-width="0.55">Mar</text>
<text x="985.5" y="1015.4" font-size="16.5" fill="#1e222d" text-anchor="middle" font-weight="normal" font-style="normal" stroke="#1e222d" stroke-width="0.55">Apr</text>
<text x="1316.8" y="1015.4" font-size="16.5" fill="#1e222d" text-anchor="middle" font-weight="normal" font-style="normal" stroke="#1e222d" stroke-width="0.55">May</text>
<text x="1658.4" y="1015.4" font-size="16.5" fill="#1e222d" text-anchor="middle" font-weight="normal" font-style="normal" stroke="#1e222d" stroke-width="0.55">Jun</text>
<g fill="#131313">
<path d="M28.9 1063 H46.4 V1090 H37.6 V1071 H28.9 Z"/>
<circle cx="54.4" cy="1067" r="3.9"/>
<path d="M62.9 1063 H73.7 L64.5 1090 H53.7 Z"/>
</g>
<text x="84.7" y="1086" font-size="33" fill="#131313" text-anchor="start" font-weight="bold" font-style="normal" textLength="181" lengthAdjust="spacingAndGlyphs">TradingView</text>
</svg></body></html>
